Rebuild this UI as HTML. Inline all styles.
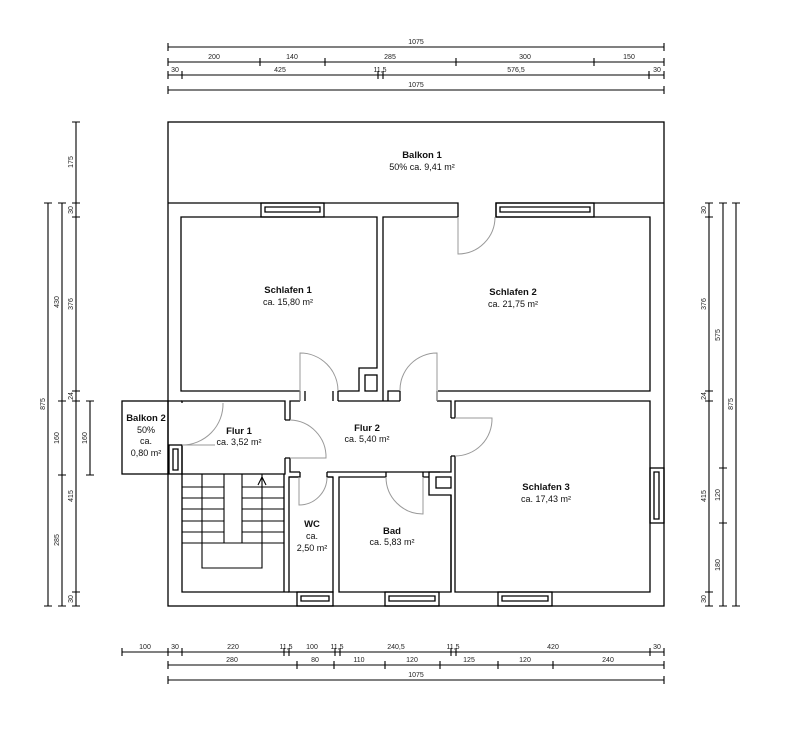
<!DOCTYPE html>
<html><head><meta charset="utf-8"><style>
html,body{margin:0;padding:0;background:#fff;}
svg{display:block;}
.d{font-family:"Liberation Sans",sans-serif;font-size:7px;fill:#222;text-anchor:middle;}
.t{font-family:"Liberation Sans",sans-serif;font-size:9.5px;font-weight:bold;fill:#111;text-anchor:middle;}
.a{font-family:"Liberation Sans",sans-serif;font-size:9px;fill:#111;text-anchor:middle;}
</style></head><body>
<svg width="785" height="740" viewBox="0 0 785 740" xmlns="http://www.w3.org/2000/svg">
<g stroke="#000" stroke-width="1.1" fill="none">
<!-- top dims -->
<path d="M168,47H664M168,43v8M664,43v8"/>
<path d="M168,62H664M168,58v8M260,58v8M325,58v8M456,58v8M594,58v8M664,58v8"/>
<path d="M168,75H664M168,71v8M182,71v8M378,71v8M383,71v8M649,71v8M664,71v8"/>
<path d="M168,90H664M168,86v8M664,86v8"/>
<!-- bottom dims -->
<path d="M122,652H664M122,648v8M168,648v8M182,648v8M284,648v8M289,648v8M335,648v8M340,648v8M451,648v8M456,648v8M650,648v8M664,648v8"/>
<path d="M168,665H664M168,661v8M297,661v8M334,661v8M385,661v8M440,661v8M498,661v8M553,661v8M664,661v8"/>
<path d="M168,680H664M168,676v8M664,676v8"/>
<!-- left dims -->
<path d="M48,203V606M44,203h8M44,606h8"/>
<path d="M62,203V606M58,203h8M58,401h8M58,475h8M58,606h8"/>
<path d="M76,122V606M72,122h8M72,203h8M72,217h8M72,391h8M72,401h8M72,592h8M72,606h8"/>
<path d="M90,401V475M86,401h8M86,475h8"/>
<!-- right dims -->
<path d="M709,203V606M705,203h8M705,217h8M705,391h8M705,401h8M705,592h8M705,606h8"/>
<path d="M723,203V606M719,203h8M719,468h8M719,523h8M719,606h8"/>
<path d="M736,203V606M732,203h8M732,606h8"/>
</g>
<g class="d">
<text x="416" y="44">1075</text>
<text x="214" y="59">200</text><text x="292" y="59">140</text><text x="390" y="59">285</text><text x="525" y="59">300</text><text x="629" y="59">150</text>
<text x="175" y="72">30</text><text x="280" y="72">425</text><text x="380" y="72">11,5</text><text x="516" y="72">576,5</text><text x="657" y="72">30</text>
<text x="416" y="87">1075</text>
<text x="145" y="649">100</text><text x="175" y="649">30</text><text x="233" y="649">220</text><text x="286" y="649">11,5</text><text x="312" y="649">100</text><text x="337" y="649">11,5</text><text x="396" y="649">240,5</text><text x="453" y="649">11,5</text><text x="553" y="649">420</text><text x="657" y="649">30</text>
<text x="232" y="662">280</text><text x="315" y="662">80</text><text x="359" y="662">110</text><text x="412" y="662">120</text><text x="469" y="662">125</text><text x="525" y="662">120</text><text x="608" y="662">240</text>
<text x="416" y="677">1075</text>
<text transform="translate(45,404) rotate(-90)">875</text>
<text transform="translate(59,302) rotate(-90)">430</text>
<text transform="translate(59,438) rotate(-90)">160</text>
<text transform="translate(59,540) rotate(-90)">285</text>
<text transform="translate(73,162) rotate(-90)">175</text>
<text transform="translate(73,210) rotate(-90)">30</text>
<text transform="translate(73,304) rotate(-90)">376</text>
<text transform="translate(73,396) rotate(-90)">24</text>
<text transform="translate(73,496) rotate(-90)">415</text>
<text transform="translate(73,599) rotate(-90)">30</text>
<text transform="translate(87,438) rotate(-90)">160</text>
<text transform="translate(706,210) rotate(-90)">30</text>
<text transform="translate(706,304) rotate(-90)">376</text>
<text transform="translate(706,396) rotate(-90)">24</text>
<text transform="translate(706,496) rotate(-90)">415</text>
<text transform="translate(706,599) rotate(-90)">30</text>
<text transform="translate(720,335) rotate(-90)">575</text>
<text transform="translate(720,495) rotate(-90)">120</text>
<text transform="translate(720,565) rotate(-90)">180</text>
<text transform="translate(733,404) rotate(-90)">875</text>
</g>
<!-- walls -->
<g stroke="#000" stroke-width="1.3" fill="none">
<rect x="168" y="122" width="496" height="484"/>
<path d="M168,203H458V217M496,217V203H664"/>
<rect x="122" y="401" width="46" height="73"/>
<!-- windows -->
<rect x="261" y="203" width="63" height="14"/><path d="M265,207H320V212H265Z"/>
<rect x="496" y="203" width="98" height="14"/><path d="M500,207H590V212H500Z"/>
<rect x="297" y="592" width="36" height="14"/><path d="M301,596H329V601H301Z"/>
<rect x="385" y="592" width="54" height="14"/><path d="M389,596H435V601H389Z"/>
<rect x="498" y="592" width="54" height="14"/><path d="M502,596H548V601H502Z"/>
<rect x="650" y="468" width="14" height="55"/><path d="M654,472V519H659V472Z"/>
<rect x="169" y="445" width="13" height="29"/><path d="M173,449V470H178V449Z"/>
<!-- Schlafen 1 -->
<path d="M300,391H181V217H377V368H359V391H338"/>
<path d="M300,391V401M305,391V401M338,391V401M333,391V401"/>
<rect x="365" y="375" width="12" height="16"/>
<!-- Schlafen 2 -->
<path d="M458,217H383V401M496,217H650V391H438M400,391H388V401M400,391V401M437,391V401"/>
<!-- Flur 1 -->
<path d="M182,403V401H285V420M285,458V474H182V445"/>
<path d="M168,401H182M285,420h5M285,458h5"/>
<!-- Flur 2 -->
<path d="M290,420V401H300M290,458V472H300M338,401H400M437,401H451V418M451,456V472H429V495H451V592"/>
<path d="M327,472H440M300,472V477H289M327,472V477H333M386,477V472M423,477V472"/>
<rect x="436" y="477" width="15" height="11"/>
<!-- WC -->
<path d="M299,477H289V592H333V477H327"/>
<!-- Bad -->
<path d="M386,477H339V592H451V495M423,477H429"/>
<!-- stairs area -->
<path d="M182,474V592H284V474M284,592H289"/>
<!-- Schlafen 3 -->
<path d="M455,418V401H650V592H455V456M451,418H455M451,456H455"/>
</g>
<!-- stairs -->
<g stroke="#000" stroke-width="1.1" fill="none">
<path d="M182,487H224M182,498H224M182,509H224M182,521H224M182,532H224M182,543H224"/>
<path d="M242,487H284M242,498H284M242,509H284M242,521H284M242,532H284M242,543H284"/>
<path d="M224,474V543H242V474M202,474V568H262V474"/>
<path d="M258,485L262,477L266,485"/>
</g>
<!-- door arcs -->
<g stroke="#999" stroke-width="1" fill="none">
<path d="M458,217V254A37,37 0 0 0 495,217"/>
<path d="M300,401V353A38,38 0 0 1 338,391"/>
<path d="M437,401V353A37,37 0 0 0 400,391"/>
<path d="M182,445H215M223,403A41,41 0 0 1 182,445"/>
<path d="M290,420A37,37 0 0 1 326,458H290"/>
<path d="M455,418H492A37,37 0 0 1 455,456"/>
<path d="M299,477V505A28,28 0 0 0 327,477"/>
<path d="M423,477V514A37,37 0 0 1 386,477"/>
</g>
<!-- labels -->
<text class="t" x="422" y="158">Balkon 1</text><text class="a" x="422" y="170">50% ca. 9,41 m²</text>
<text class="t" x="288" y="293">Schlafen 1</text><text class="a" x="288" y="305">ca. 15,80 m²</text>
<text class="t" x="513" y="295">Schlafen 2</text><text class="a" x="513" y="307">ca. 21,75 m²</text>
<text class="t" x="239" y="434">Flur 1</text><text class="a" x="239" y="445">ca. 3,52 m²</text>
<text class="t" x="367" y="431">Flur 2</text><text class="a" x="367" y="442">ca. 5,40 m²</text>
<text class="t" x="146" y="421">Balkon 2</text><text class="a" x="146" y="433">50%</text><text class="a" x="146" y="444">ca.</text><text class="a" x="146" y="456">0,80 m²</text>
<text class="t" x="312" y="527">WC</text><text class="a" x="312" y="539">ca.</text><text class="a" x="312" y="551">2,50 m²</text>
<text class="t" x="392" y="534">Bad</text><text class="a" x="392" y="545">ca. 5,83 m²</text>
<text class="t" x="546" y="490">Schlafen 3</text><text class="a" x="546" y="502">ca. 17,43 m²</text>
</svg>
</body></html>
